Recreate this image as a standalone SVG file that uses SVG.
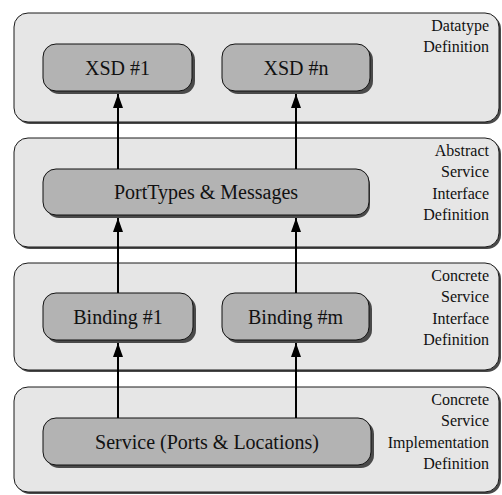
<svg xmlns="http://www.w3.org/2000/svg" width="502" height="495" viewBox="0 0 502 495">
  <defs>
    <style>
      .layer { fill: #e6e6e6; stroke: #1a1a1a; stroke-width: 1; }
      .layer-shadow { fill: #4a4a4a; }
      .node { fill: #b3b3b3; stroke: #111; stroke-width: 1; }
      .node-shadow { fill: #4a4a4a; }
      text { font-family: 'Liberation Serif', Tinos, 'Times New Roman', 'DejaVu Serif', serif; fill: #111; }
      .node-text { font-size: 20px; text-anchor: middle; }
      .layer-text { font-size: 16px; text-anchor: end; }
      .edge { stroke: #000; stroke-width: 2; fill: none; marker-end: url(#arrow); }
    </style>
    <marker id="arrow" viewBox="0 0 14 10" refX="14" refY="5" markerWidth="14" markerHeight="10" markerUnits="userSpaceOnUse" orient="auto">
      <path d="M0,0 L14,5 L0,10 Z" fill="#000"/>
    </marker>
  </defs>
  <rect width="502" height="495" fill="#ffffff"/>

  <!-- Layer: Datatype Definition -->
  <g id="layer-datatype">
    <rect class="layer-shadow" x="16" y="15" width="485" height="109" rx="14"/>
    <rect class="layer" x="14" y="13" width="485" height="109" rx="14"/>
    <text class="layer-text" x="489" y="31" font-family="Liberation Serif, serif">Datatype</text>
    <text class="layer-text" x="489" y="52.3" font-family="Liberation Serif, serif">Definition</text>
  </g>

  <!-- Layer: Abstract Service Interface Definition -->
  <g id="layer-abstract">
    <rect class="layer-shadow" x="16" y="140" width="485" height="109" rx="14"/>
    <rect class="layer" x="14" y="138" width="485" height="109" rx="14"/>
    <text class="layer-text" x="489" y="156">Abstract</text>
    <text class="layer-text" x="489" y="177.3">Service</text>
    <text class="layer-text" x="489" y="198.6">Interface</text>
    <text class="layer-text" x="489" y="219.9">Definition</text>
  </g>

  <!-- Layer: Concrete Service Interface Definition -->
  <g id="layer-concrete-interface">
    <rect class="layer-shadow" x="16" y="265" width="485" height="107" rx="14"/>
    <rect class="layer" x="14" y="263" width="485" height="107" rx="14"/>
    <text class="layer-text" x="489" y="281">Concrete</text>
    <text class="layer-text" x="489" y="302.3">Service</text>
    <text class="layer-text" x="489" y="323.6">Interface</text>
    <text class="layer-text" x="489" y="344.9">Definition</text>
  </g>

  <!-- Layer: Concrete Service Implementation Definition -->
  <g id="layer-concrete-impl">
    <rect class="layer-shadow" x="16" y="389" width="485" height="105" rx="14"/>
    <rect class="layer" x="14" y="387" width="485" height="105" rx="14"/>
    <text class="layer-text" x="489" y="405">Concrete</text>
    <text class="layer-text" x="489" y="426.3">Service</text>
    <text class="layer-text" x="489" y="447.6">Implementation</text>
    <text class="layer-text" x="489" y="468.9">Definition</text>
  </g>

  <!-- Nodes -->
  <g id="node-xsd1">
    <rect class="node-shadow" x="46" y="47" width="149" height="47" rx="13"/>
    <rect class="node" x="43" y="44" width="149" height="47" rx="13"/>
    <text class="node-text" x="117.5" y="74.5">XSD #1</text>
  </g>
  <g id="node-xsdn">
    <rect class="node-shadow" x="225" y="47" width="148" height="47" rx="13"/>
    <rect class="node" x="222" y="44" width="148" height="47" rx="13"/>
    <text class="node-text" x="296" y="74.5">XSD #n</text>
  </g>
  <g id="node-porttypes">
    <rect class="node-shadow" x="46" y="172" width="324" height="46" rx="13"/>
    <rect class="node" x="43" y="169" width="326" height="46" rx="13"/>
    <text class="node-text" x="206" y="199">PortTypes &amp; Messages</text>
  </g>
  <g id="node-binding1">
    <rect class="node-shadow" x="46" y="296" width="150" height="47" rx="13"/>
    <rect class="node" x="43" y="293" width="150" height="47" rx="13"/>
    <text class="node-text" x="118" y="323.5">Binding #1</text>
  </g>
  <g id="node-bindingm">
    <rect class="node-shadow" x="225" y="296" width="147" height="47" rx="13"/>
    <rect class="node" x="222" y="293" width="147" height="47" rx="13"/>
    <text class="node-text" x="295.5" y="323.5">Binding #m</text>
  </g>
  <g id="node-service">
    <rect class="node-shadow" x="46" y="421" width="328" height="47" rx="13"/>
    <rect class="node" x="43" y="418" width="328" height="47" rx="13"/>
    <text class="node-text" x="207" y="448.5">Service (Ports &amp; Locations)</text>
  </g>

  <!-- Connectors -->
  <g id="connectors">
    <line class="edge" x1="118" y1="169" x2="118" y2="94"/>
    <line class="edge" x1="296" y1="169" x2="296" y2="94"/>
    <line class="edge" x1="118" y1="293" x2="118" y2="218"/>
    <line class="edge" x1="296" y1="293" x2="296" y2="218"/>
    <line class="edge" x1="118" y1="418" x2="118" y2="343"/>
    <line class="edge" x1="296" y1="418" x2="296" y2="343"/>
  </g>
</svg>
